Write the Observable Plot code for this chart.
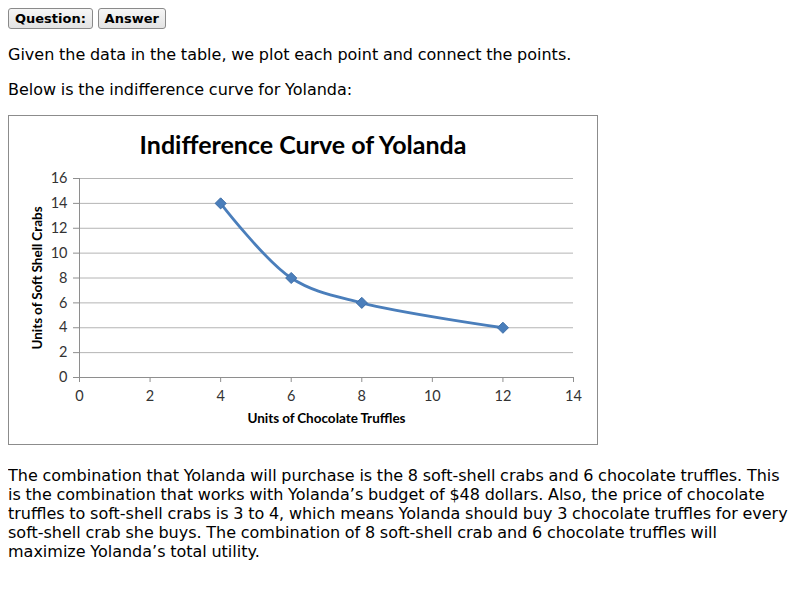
<!DOCTYPE html>
<html>
<head>
<meta charset="utf-8">
<script src="https://cdn.jsdelivr.net/npm/d3@7"></script>
<script src="https://cdn.jsdelivr.net/npm/@observablehq/plot@0.6"></script>
<style>
  body { margin: 8px; font-family: "DejaVu Sans", sans-serif; font-size: 16px; color: #000; background: #fff; word-spacing: -0.4px; }
  p, .fig { margin: 16px 0; }
  .buttons { margin: 0; }
  button {
    font-family: "DejaVu Sans", sans-serif; font-weight: bold; font-size: 13px; word-spacing: 0;
    padding: 2px 6px; border: 1px solid #8a8a8a; border-radius: 3px;
    background: linear-gradient(#f6f6f6, #e3e3e3); color: #000;
  }
  .chart {
    display: inline-block; overflow: hidden; vertical-align: baseline;
    width: 588px; height: 328px; border: 1px solid #8c8c8c; background: #fff;
  }
  .chart-title {
    box-sizing: border-box; height: 50px; padding-top: 14px; line-height: 28px; word-spacing: 0;
    text-align: center; font-family: Lato, sans-serif; font-weight: bold; font-size: 25px; color: #000;
  }
  .chart svg { display: block; }
</style>
</head>
<body>
<div class="buttons"><button>Question:</button> <button>Answer</button></div>
<p>Given the data in the table, we plot each point and connect the points.</p>
<p>Below is the indifference curve for Yolanda:</p>
<div class="fig"><span class="chart" id="chart"><div class="chart-title">Indifference Curve of Yolanda</div></span></div>
<p style="margin-top:17px">The combination that Yolanda will purchase is the 8 soft-shell crabs and 6 chocolate truffles. This is the combination that works with Yolanda’s budget of $48 dollars. Also, the price of chocolate truffles to soft-shell crabs is 3 to 4, which means Yolanda should buy 3 chocolate truffles for every soft-shell crab she buys. The combination of 8 soft-shell crab and 6 chocolate truffles will maximize Yolanda’s total utility.</p>
<script>
// Bundles on Yolanda's indifference curve
const truffles = [4, 6, 8, 12];
const crabs = [14, 8, 6, 4];
const xTicks = [0, 2, 4, 6, 8, 10, 12, 14];
const yTicks = [0, 2, 4, 6, 8, 10, 12, 14, 16];
const xLabel = "Units of Chocolate Truffles";
const yLabel = "Units of Soft Shell Crabs";

const bundles = truffles.map((t, i) => ({truffles: t, crabs: crabs[i]}));

const blue = "#4a7ebb";
const axisGray = "#8e8e8e";

const plot = Plot.plot({
  width: 588,
  height: 278,
  marginLeft: 70,
  marginRight: 24,
  marginTop: 12,
  marginBottom: 67,
  style: {fontFamily: "Lato, sans-serif", fontSize: "14.5px", color: "#333", background: "#fff"},
  x: {domain: [0, 14], ticks: xTicks, label: null},
  y: {domain: [0, 16], ticks: yTicks, label: null},
  marks: [
    Plot.gridY(yTicks.filter(d => d > 0), {stroke: "#b4b4b4", strokeOpacity: 1}),
    Plot.axisY({ticks: yTicks, tickSize: 6, tickPadding: 6, stroke: axisGray, label: null}),
    Plot.axisX({ticks: xTicks, tickSize: 5, tickPadding: 8, stroke: axisGray, label: null}),
    Plot.ruleY([0], {stroke: axisGray}),
    Plot.ruleX([0], {stroke: axisGray}),
    Plot.line(bundles, {x: "truffles", y: "crabs", curve: "catmull-rom", stroke: blue, strokeWidth: 2.8}),
    Plot.dot(bundles, {x: "truffles", y: "crabs", symbol: "diamond2", r: 5, fill: blue, stroke: "#3f6fa8", strokeWidth: 1}),
    Plot.text([xLabel], {frameAnchor: "bottom", dy: 45, fontWeight: "bold", fontSize: 13.5, fill: "#000"}),
    Plot.text([yLabel], {frameAnchor: "left", textAnchor: "middle", dx: -42, rotate: -90, fontWeight: "bold", fontSize: 13.5, fill: "#000"})
  ]
});

document.getElementById("chart").appendChild(plot);
</script>
</body>
</html>
